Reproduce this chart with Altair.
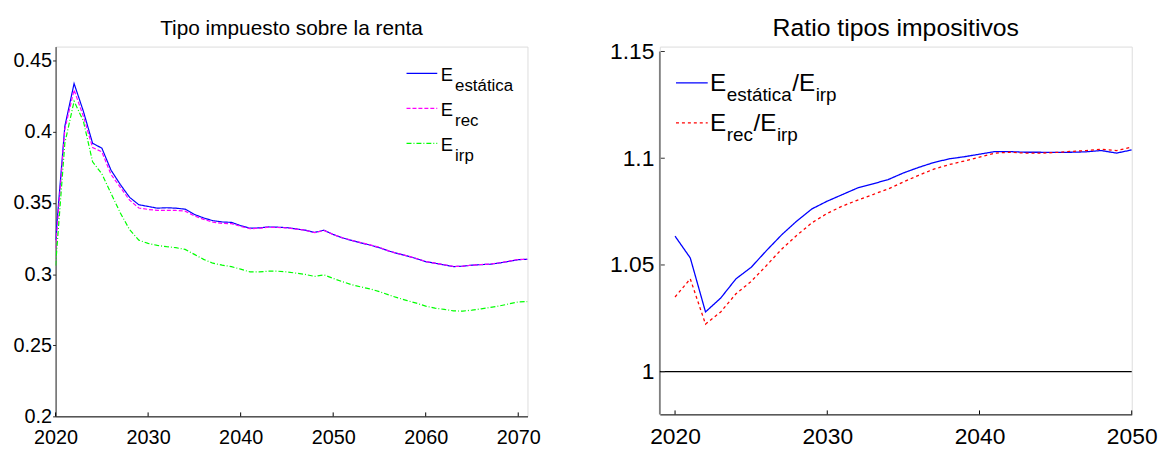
import altair as alt
import pandas as pd

FONT = "Liberation Sans"

# ---------------- data ----------------
years_left = list(range(2020, 2072))
e_estatica = [0.324, 0.404, 0.434, 0.4146, 0.392, 0.3886, 0.373, 0.363, 0.354, 0.3488,
              0.3476, 0.3464, 0.3467, 0.3464, 0.3457, 0.342, 0.3395, 0.3376, 0.3367, 0.3364,
              0.3341, 0.3323, 0.3325, 0.3332, 0.333, 0.3327, 0.3318, 0.3309, 0.3293, 0.3309,
              0.3279, 0.3255, 0.3237, 0.322, 0.3204, 0.3186, 0.3163, 0.3144, 0.3128, 0.3109,
              0.3088, 0.3077, 0.3065, 0.3053, 0.3056, 0.3063, 0.3067, 0.307, 0.3079, 0.309,
              0.3102, 0.3104]
e_rec = [0.318, 0.402, 0.4295, 0.411, 0.389, 0.386, 0.370, 0.361, 0.352, 0.3465,
         0.3455, 0.3448, 0.3448, 0.3448, 0.3443, 0.341, 0.3385, 0.3366, 0.3357, 0.3355,
         0.3336, 0.332, 0.3322, 0.333, 0.3328, 0.3325, 0.3317, 0.3308, 0.3292, 0.3307,
         0.3279, 0.3256, 0.3238, 0.3222, 0.3206, 0.3188, 0.3164, 0.3145, 0.3129, 0.311,
         0.3089, 0.3077, 0.3066, 0.3054, 0.3056, 0.3063, 0.3068, 0.3071, 0.308, 0.3091,
         0.3103, 0.3105]
e_irp = [0.306, 0.392, 0.4216, 0.4077, 0.379, 0.3705, 0.3567, 0.343, 0.3313, 0.3239,
         0.3216, 0.3202, 0.3193, 0.3186, 0.3174, 0.3139, 0.3104, 0.3077, 0.3063, 0.3053,
         0.3035, 0.3016, 0.3016, 0.3021, 0.3021, 0.3016, 0.3007, 0.2998, 0.2984, 0.2995,
         0.297, 0.2947, 0.2926, 0.291, 0.2896, 0.2877, 0.2854, 0.2833, 0.2814, 0.2796,
         0.2775, 0.2761, 0.2752, 0.2742, 0.274, 0.2747, 0.2756, 0.2766, 0.2777, 0.2791,
         0.2805, 0.2807]

years_right = list(range(2020, 2051))
ratio_estatica = [1.0635, 1.0533, 1.028, 1.0345, 1.0435, 1.0489, 1.0567, 1.0641, 1.0706, 1.0763,
                  1.0799, 1.083, 1.0861, 1.088, 1.09, 1.0931, 1.0957, 1.098, 1.0997, 1.1007,
                  1.1019, 1.1031, 1.1031, 1.1028, 1.1028, 1.1027, 1.1028, 1.103, 1.1036, 1.1024,
                  1.1039]
ratio_rec = [1.035, 1.0435, 1.0223, 1.028, 1.0365, 1.0423, 1.0497, 1.0574, 1.0639, 1.0698,
             1.0742, 1.0776, 1.0804, 1.083, 1.0856, 1.0889, 1.092, 1.0949, 1.097, 1.0987,
             1.1005, 1.1024, 1.1028, 1.1024, 1.1024, 1.1027, 1.1032, 1.1036, 1.1042, 1.1036,
             1.1052]

left_keys = ["estatica", "rec", "irp"]
left_subs = ["estática", "rec", "irp"]
left_colors = ["#0000ff", "#ff00ff", "#00ff00"]
left_dashes = [[1, 0], [4, 2], [5, 2, 1, 2]]

right_keys = ["estatica_irp", "rec_irp"]
right_subs = ["estática", "rec"]
right_colors = ["#0000ff", "#ff0000"]
right_dashes = [[1, 0], [3, 3]]

left_xticks = [2020, 2030, 2040, 2050, 2060, 2070]
left_yticks = [0.2, 0.25, 0.3, 0.35, 0.4, 0.45]
right_xticks = [2020, 2030, 2040, 2050]
right_yticks = [1.0, 1.05, 1.1, 1.15]

# ---------------- helpers ----------------
ARIAL = {"E": 0.667, "e": 0.556, "s": 0.5, "t": 0.278, "á": 0.556, "i": 0.222,
         "c": 0.5, "a": 0.556, "r": 0.333, "p": 0.556, "/": 0.278}


def text_w(s, size):
    return sum(ARIAL.get(ch, 0.55) for ch in s) * size


def txt(df, text, x, y, size):
    return alt.Chart(df).mark_text(
        text=text, align="left", baseline="alphabetic", font=FONT,
        fontSize=size, color="black"
    ).encode(x=alt.value(x), y=alt.value(y))


# ---------------- left panel ----------------
LW, LH = 476, 373
df_left = pd.DataFrame({
    "year": years_left * 3,
    "value": e_estatica + e_rec + e_irp,
    "key": sum([[k] * len(years_left) for k in left_keys], []),
})

xL = alt.X("year:Q", scale=alt.Scale(domain=[2020, 2071], nice=False, zero=False),
           axis=alt.Axis(values=left_xticks, format="d", title=None, grid=False,
                         labelFontSize=20, labelFont=FONT, labelColor="black",
                         ticks=False, labelPadding=11, labelFlush=False, labelOverlap=False,
                         domainColor="black"))
yL = alt.Y("value:Q", scale=alt.Scale(domain=[0.2, 0.46], nice=False, zero=False),
           axis=alt.Axis(values=left_yticks, format="~g", title=None, grid=False,
                         labelFontSize=20, labelFont=FONT, labelColor="black",
                         tickSize=3, labelPadding=1, labelFlush=False, labelOverlap=False,
                         domainColor="#262626", tickColor="#262626"))

lines_left = alt.Chart(df_left).mark_line(strokeWidth=1.2, clip=True).encode(
    x=xL, y=yL,
    color=alt.Color("key:N", scale=alt.Scale(domain=left_keys, range=left_colors), legend=None),
    strokeDash=alt.StrokeDash("key:N", scale=alt.Scale(domain=left_keys, range=left_dashes), legend=None),
    order=alt.Order("year:Q"),
)

# inward x ticks
xticks_left = alt.Chart(pd.DataFrame({"year": left_xticks})).mark_rule(
    color="black", strokeWidth=1).encode(
    x=alt.X("year:Q"), y=alt.value(LH), y2=alt.value(LH - 4))

leg_left_df = pd.DataFrame({"key": left_keys, "sub": left_subs})
left_layers = [lines_left, xticks_left]
for i, (k, sub, c, d) in enumerate(zip(left_keys, left_subs, left_colors, left_dashes)):
    one = leg_left_df.iloc[[i]]
    dy = i * 35.3
    left_layers.append(
        alt.Chart(one).mark_rule(color=c, strokeDash=d, strokeWidth=1.2).encode(
            x=alt.value(354), x2=alt.value(385), y=alt.value(27 + dy)))
    left_layers.append(txt(one, "E", 388.6, 34.3 + dy, 18.5))
    left_layers.append(txt(one, sub, 388.6 + text_w("E", 18.5) + 2, 44.3 + dy, 17))

left = alt.layer(*left_layers).properties(
    width=LW, height=LH,
    title=alt.TitleParams("Tipo impuesto sobre la renta", fontSize=21, fontWeight="normal",
                          font=FONT, color="black", frame="group", anchor="middle", offset=8),
)

# ---------------- right panel ----------------
RW, RH = 476, 371
df_right = pd.DataFrame({
    "year": years_right * 2,
    "value": ratio_estatica + ratio_rec,
    "key": sum([[k] * len(years_right) for k in right_keys], []),
})

xR = alt.X("year:Q", scale=alt.Scale(domain=[2019, 2050], nice=False, zero=False),
           axis=alt.Axis(values=right_xticks, format="d", title=None, grid=False,
                         labelFontSize=23, labelFont=FONT, labelColor="black",
                         ticks=False, labelPadding=11, labelFlush=False, labelOverlap=False,
                         domainColor="black"))
yR = alt.Y("value:Q", scale=alt.Scale(domain=[0.98, 1.1523], nice=False, zero=False),
           axis=alt.Axis(values=right_yticks, format="~g", title=None, grid=False,
                         labelFontSize=23, labelFont=FONT, labelColor="black",
                         ticks=False, labelPadding=6, labelFlush=False, labelOverlap=False,
                         domain=False))

lines_right = alt.Chart(df_right).mark_line(strokeWidth=1.3, clip=True).encode(
    x=xR, y=yR,
    color=alt.Color("key:N", scale=alt.Scale(domain=right_keys, range=right_colors), legend=None),
    strokeDash=alt.StrokeDash("key:N", scale=alt.Scale(domain=right_keys, range=right_dashes), legend=None),
    order=alt.Order("year:Q"),
)

one_line = alt.Chart(pd.DataFrame({"value": [1.0]})).mark_rule(color="black", strokeWidth=1.2).encode(
    y=alt.Y("value:Q"))

# gray y-axis line from 0.98 up to 1.15
y_axis_line = alt.Chart(pd.DataFrame({"value": [0.98], "hi": [1.15]})).mark_rule(
    color="#808080", strokeWidth=1.8).encode(
    x=alt.value(0), y=alt.Y("value:Q"), y2=alt.Y2("hi:Q"))

# inward ticks
xticks_right = alt.Chart(pd.DataFrame({"year": right_xticks})).mark_rule(
    color="black", strokeWidth=1).encode(
    x=alt.X("year:Q"), y=alt.value(RH), y2=alt.value(RH - 4))
yticks_right = alt.Chart(pd.DataFrame({"value": right_yticks})).mark_rule(
    color="#333333", strokeWidth=1).encode(
    y=alt.Y("value:Q"), x=alt.value(1), x2=alt.value(5))

leg_right_df = pd.DataFrame({"key": right_keys, "sub": right_subs})
right_layers = [y_axis_line, one_line, lines_right, xticks_right, yticks_right]
for i, (k, sub, c, d) in enumerate(zip(right_keys, right_subs, right_colors, right_dashes)):
    one = leg_right_df.iloc[[i]]
    dy = i * 40.5 + 5
    ex = 50.7
    fe, fs = 24.5, 19
    sx = ex + text_w("E", fe) + 0.5
    slx = sx + text_w(sub, fs) + 0.5
    ix = slx + text_w("/E", fe) + 0.5
    right_layers.append(
        alt.Chart(one).mark_rule(color=c, strokeDash=d, strokeWidth=1.3).encode(
            x=alt.value(16.3), x2=alt.value(48.3), y=alt.value(31.5 + dy)))
    right_layers.append(txt(one, "E", ex, 40 + dy, fe))
    right_layers.append(txt(one, sub, sx, 50 + dy, fs))
    right_layers.append(txt(one, "/E", slx, 40 + dy, fe))
    right_layers.append(txt(one, "irp", ix, 50 + dy, fs))

right = alt.layer(*right_layers).properties(
    width=RW, height=RH,
    title=alt.TitleParams("Ratio tipos impositivos", fontSize=25, fontWeight="normal",
                          font=FONT, color="black", frame="group", anchor="middle", offset=0),
)

chart = alt.hconcat(left, right, spacing=67.5).resolve_scale(
    color="independent", strokeDash="independent"
).properties(
    padding={"left": 4, "top": 5, "right": 0, "bottom": 0}
).configure_view(stroke=None).configure(font=FONT, background="white")

chart.save("out.html", embed_options={"renderer": "svg", "actions": False})
